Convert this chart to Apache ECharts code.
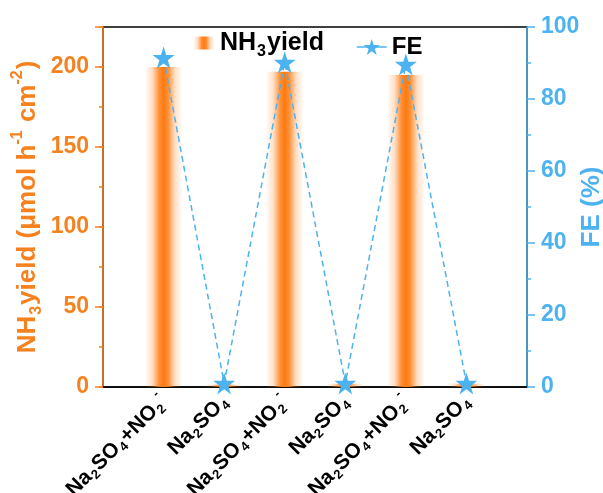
<!DOCTYPE html>
<html>
<head>
<meta charset="utf-8">
<script src="https://cdn.jsdelivr.net/npm/echarts@6/dist/echarts.min.js"></script>
<style>html,body{margin:0;padding:0;background:#fff;}#c{width:603px;height:493px;}</style>
</head>
<body>
<div id="c"></div>
<script>
// ---- data ----
var categories = ['Na2SO4+NO2-', 'Na2SO4', 'Na2SO4+NO2-', 'Na2SO4', 'Na2SO4+NO2-', 'Na2SO4'];
var nh3Yield = [200, 1.5, 197, 2, 195, 2];
var fe = [91.5, 1, 90.2, 1, 89.6, 1];
var yLeftTicks = [0, 50, 100, 150, 200];
var yRightTicks = [0, 20, 40, 60, 80, 100];

var ORANGE = '#F5821F';
var BLUE = '#4DB3F0';
var FONT = 'Liberation Sans';

function toRich(s) {
  var out = '', buf = '', mode = 'n';
  function flush() { if (buf) { out += '{' + mode + '|' + buf + '}'; buf = ''; } }
  for (var i = 0; i < s.length; i++) {
    var ch = s[i];
    var m = /[0-9]/.test(ch) ? 's' : (ch === '-' ? 'p' : 'n');
    if (m !== mode) { flush(); mode = m; }
    buf += ch;
  }
  flush();
  return out;
}
function richStyles(color, size) {
  var sub = Math.round(size * 0.62);
  return {
    n: {fontSize: size, fontWeight: 'bold', fontFamily: FONT, color: color, verticalAlign: 'top', padding: [5, 0, 0, 0]},
    s: {fontSize: sub, fontWeight: 'bold', fontFamily: FONT, color: color, verticalAlign: 'top', padding: [Math.round(size * 0.72), 1, 0, 1]},
    p: {fontSize: sub, fontWeight: 'bold', fontFamily: FONT, color: color, verticalAlign: 'top', padding: [0, 1, 0, 0]}
  };
}

var xData = [''].concat(categories).concat(['']);
var barData = ['-'].concat(nh3Yield).concat(['-']);
var feData = ['-'].concat(fe).concat(['-']);

var STAR = 'path://M50,0 L61.8,35.3 L98.9,35.3 L68.9,57.3 L80.3,92.7 L50,70.9 L19.7,92.7 L31.1,57.3 L1.1,35.3 L38.2,35.3 Z';

var barGrad = new echarts.graphic.LinearGradient(0, 0, 1, 0, [
  {offset: 0, color: 'rgba(255,130,30,0)'},
  {offset: 0.2, color: 'rgba(255,130,30,0.25)'},
  {offset: 0.38, color: 'rgba(255,125,20,0.85)'},
  {offset: 0.5, color: '#FF7A10'},
  {offset: 0.62, color: 'rgba(255,125,20,0.85)'},
  {offset: 0.8, color: 'rgba(255,130,30,0.25)'},
  {offset: 1, color: 'rgba(255,130,30,0)'}
]);

var chart = echarts.init(document.getElementById('c'), null, {renderer: 'canvas'});
chart.setOption({
  animation: false,
  backgroundColor: '#fff',
  grid: {left: 103, right: 76, top: 27, bottom: 106, show: true, borderColor: '#000', borderWidth: 1.5,
         backgroundColor: 'transparent', containLabel: false, outerBoundsMode: 'none'},
  legend: [
    {data: ['NH3yield'], left: 188, top: 26, itemWidth: 22, itemHeight: 13, itemGap: 10,
     formatter: function (n) { return toRich(n); },
     textStyle: {rich: richStyles('#000', 25)}},
    {data: ['FE'], left: 351, top: 30, itemWidth: 30, itemHeight: 20,
     lineStyle: {type: 'solid', width: 1.5},
     textStyle: {fontSize: 24, fontWeight: 'bold', fontFamily: FONT, color: '#000'}}
  ],
  xAxis: {
    type: 'category', data: xData, boundaryGap: false,
    axisLine: {lineStyle: {color: '#000', width: 1.5}},
    axisTick: {show: false},
    splitLine: {show: false},
    axisLabel: {
      interval: 0, rotate: 45, margin: 10,
      formatter: function (v) { return v ? toRich(v) : ''; },
      rich: richStyles('#000', 21)
    }
  },
  yAxis: [
    {
      type: 'value', position: 'left', min: 0, max: 225, interval: 50,
      name: '{n|NH}{s|3}{n|yield (μmol h}{p|-1}{n| cm}{p|-2}{n|)}',
      nameLocation: 'middle', nameRotate: 90, nameGap: 58, nameMoveOverlap: false,
      nameTextStyle: {rich: richStyles(ORANGE, 26)},
      axisLine: {show: true, lineStyle: {color: ORANGE, width: 1.5}},
      axisTick: {show: true, length: 8, lineStyle: {color: ORANGE, width: 1.5}},
      minorTick: {show: false},
      splitLine: {show: false},
      axisLabel: {
        margin: 14, color: ORANGE, fontSize: 23, fontWeight: 'bold', fontFamily: FONT,
        formatter: function (v) { return yLeftTicks.indexOf(v) >= 0 ? String(v) : ''; }
      }
    },
    {
      type: 'value', position: 'right', min: 0, max: 100, interval: 20,
      name: 'FE (%)', nameLocation: 'middle', nameRotate: 90, nameGap: 52, nameMoveOverlap: false,
      nameTextStyle: {color: BLUE, fontSize: 26, fontWeight: 'bold', fontFamily: FONT},
      axisLine: {show: true, lineStyle: {color: BLUE, width: 1.5}},
      axisTick: {show: true, length: 8, lineStyle: {color: BLUE, width: 1.5}},
      minorTick: {show: true, splitNumber: 2, length: 4, lineStyle: {color: BLUE, width: 1.5}},
      splitLine: {show: false}, minorSplitLine: {show: false},
      axisLabel: {
        margin: 14, color: BLUE, fontSize: 23, fontWeight: 'bold', fontFamily: FONT,
        formatter: function (v) { return yRightTicks.indexOf(v) >= 0 ? String(v) : ''; }
      }
    },
    {
      type: 'value', position: 'left', min: 0, max: 225, interval: 25,
      axisLine: {show: false},
      axisTick: {show: true, length: 4, lineStyle: {color: ORANGE, width: 1.5}},
      axisLabel: {show: false}, splitLine: {show: false}
    }
  ],
  series: [
    {
      name: 'NH3yield', type: 'bar', yAxisIndex: 0, data: barData, barWidth: 38,
      itemStyle: {color: barGrad}
    },
    {
      name: 'FE', type: 'line', yAxisIndex: 1, data: feData,
      symbol: STAR, symbolSize: 22, showSymbol: true,
      itemStyle: {color: BLUE},
      lineStyle: {color: BLUE, width: 1.5, type: [6, 4]},
      z: 5
    }
  ]
});
</script>
</body>
</html>
